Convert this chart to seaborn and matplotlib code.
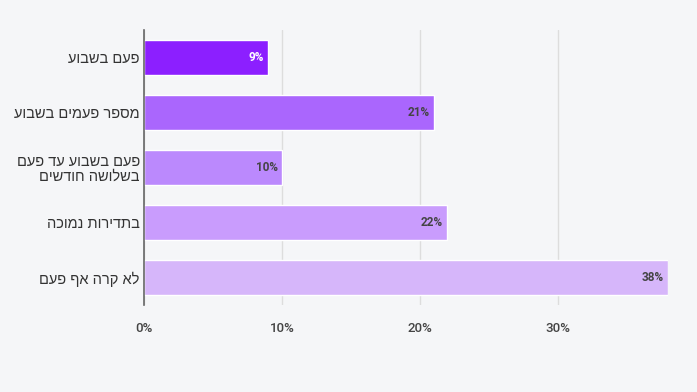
import matplotlib
matplotlib.use("Agg")
import matplotlib.pyplot as plt
import seaborn as sns
import pandas as pd

categories = ["פעם בשבוע", "מספר פעמים בשבוע", "פעם בשבוע עד פעם\nבשלושה חודשים", "בתדירות נמוכה", "לא קרה אף פעם"]
values = [9, 21, 10, 22, 38]
bar_colors = ["#8c1fff", "#aa66fd", "#bb89fd", "#c99cfd", "#d6b6fa"]
value_colors = ["white", "#444444", "#444444", "#444444", "#444444"]
x_ticks = [0, 10, 20, 30]


def rtl(s):
    # matplotlib has no bidi support, so flip each line by hand
    return "\n".join(line[::-1] for line in s.split("\n"))


sns.set_style("white")
plt.rcParams["font.family"] = ["Liberation Sans", "DejaVu Sans"]

df = pd.DataFrame({"cat": categories, "val": values})

fig = plt.figure(figsize=(6.97, 3.92), dpi=100, facecolor="#f5f6f8")
ax = fig.add_axes([144 / 697, 1 - 305 / 392, (668 - 144) / 697, (305 - 30) / 392])
ax.set_facecolor("#f5f6f8")

sns.barplot(data=df, x="val", y="cat", hue="cat", palette=bar_colors,
            legend=False, width=0.63, ax=ax, zorder=3, saturation=1)

for i, v in enumerate(values):
    ax.text(v - 0.3, i, f"{v}%", ha="right", va="center", fontsize=8.5,
            fontweight="bold", color=value_colors[i], family="Roboto", zorder=4)

ax.set_xlim(0, 38)
ax.set_xticks(x_ticks)
ax.set_xticklabels([f"{t}%" for t in x_ticks], family="Roboto", fontsize=9.5,
                   fontweight="medium", color="#444444")
ax.set_yticks(range(len(categories)))
ax.set_yticklabels([rtl(c) for c in categories], fontsize=10.5, color="#333333", linespacing=1.1)
ax.tick_params(axis="x", length=4, color="#dddddd", pad=8)
ax.tick_params(axis="y", length=0, pad=3)
ax.set_xlabel("")
ax.set_ylabel("")
ax.grid(axis="x", color="#dddddd", linewidth=1, zorder=0)
for s in ["top", "right", "bottom"]:
    ax.spines[s].set_visible(False)
ax.spines["left"].set_color("#666666")
ax.spines["left"].set_linewidth(1.2)
ax.spines["left"].set_zorder(5)

fig.savefig("out.png", dpi=100, facecolor=fig.get_facecolor())
